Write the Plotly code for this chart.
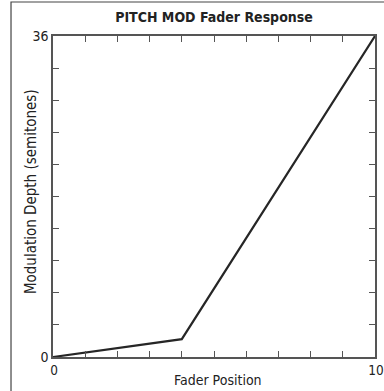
import plotly.graph_objects as go

fader_position = [0, 4, 10]
modulation_depth = [0, 2, 36]

x_tick_vals = list(range(0, 11))
x_tick_text = ["0"] + [""] * 9 + ["10"]
y_tick_vals = [i * 3.6 for i in range(11)]
y_tick_text = ["0"] + [""] * 9 + ["36"]

x_title = "Fader Position"
y_title = "Modulation Depth (semitones)"
chart_title = "PITCH MOD Fader Response"

FONT = "DejaVu Sans Condensed, Liberation Sans Narrow, sans-serif"

fig = go.Figure()
fig.add_trace(go.Scatter(
    x=fader_position, y=modulation_depth, mode="lines",
    line=dict(color="#262626", width=2.2), hoverinfo="skip", showlegend=False,
))

axis_common = dict(
    showgrid=False, zeroline=False, showline=True, linecolor="#555555", linewidth=1.5,
    mirror="ticks", ticks="inside", ticklen=6, tickwidth=1, tickcolor="#555555",
    tickmode="array", automargin=False, ticklabeloverflow="allow",
)

fig.update_layout(
    width=384, height=391,
    margin=dict(l=53, r=9, t=36, b=34),
    paper_bgcolor="white", plot_bgcolor="white",
    font=dict(family=FONT, color="#222222"),
    title=dict(text="<b>" + chart_title + "</b>", x=0.5, xanchor="center",
               xref="paper", y=0.955, yanchor="middle",
               font=dict(family=FONT, size=14, color="#222222")),
    xaxis=dict(range=[0, 10], tickvals=x_tick_vals, ticktext=x_tick_text,
               ticklabelshift=1, tickfont=dict(family=FONT, size=13.5, color="#222222"),
               **axis_common),
    yaxis=dict(range=[0, 36], tickvals=y_tick_vals, ticktext=y_tick_text,
               tickfont=dict(family=FONT, size=14, color="#222222"), **axis_common),
    annotations=[
        dict(text=x_title, xref="paper", yref="paper", x=0.513, y=-0.072,
             xanchor="center", yanchor="middle", showarrow=False,
             font=dict(family=FONT, size=14, color="#222222")),
        dict(text=y_title, xref="paper", yref="paper", x=-0.068, y=0.514,
             xanchor="center", yanchor="middle", showarrow=False, textangle=-90,
             font=dict(family=FONT, size=15, color="#222222")),
    ],
    shapes=[
        dict(type="rect", xref="paper", yref="paper", x0=-0.1304, x1=1.3, y0=-0.3, y1=1.1059,
             line=dict(color="#444444", width=1.2), fillcolor="rgba(0,0,0,0)", layer="above"),
    ],
)

fig.write_html("out.html", config={"displayModeBar": False},
               post_script="document.body.style.margin='0';")
